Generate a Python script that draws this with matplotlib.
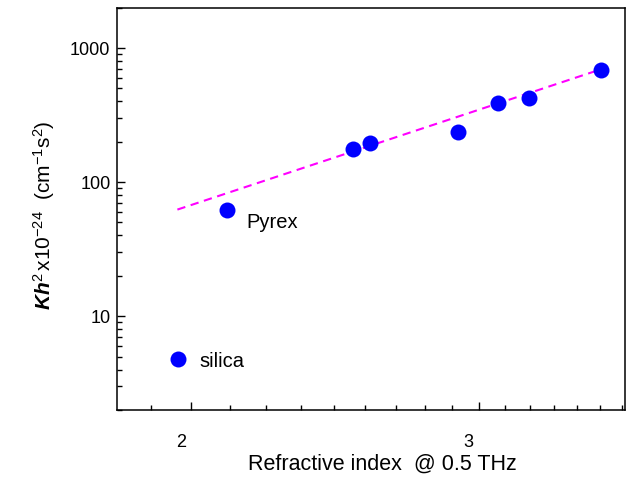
import numpy as np
import matplotlib
matplotlib.use("Agg")
import matplotlib.pyplot as plt
from matplotlib.ticker import FixedLocator, NullFormatter
from matplotlib.transforms import ScaledTranslation

plt.rcParams['font.family'] = ['Liberation Sans', 'DejaVu Sans']
plt.rcParams['mathtext.fontset'] = 'custom'
plt.rcParams['mathtext.rm'] = 'Liberation Sans'
plt.rcParams['mathtext.it'] = 'Liberation Sans:italic'
plt.rcParams['mathtext.bf'] = 'Liberation Sans:bold'
plt.rcParams['mathtext.bfit'] = 'Liberation Sans:bold:italic'

# refractive index at 0.5 THz vs Kh^2 (x1e-24 cm^-1 s^2)
n_index = [1.964, 2.104, 2.511, 2.574, 2.910, 3.081, 3.217, 3.561]
kh2 = [4.83, 62.4, 176.5, 196.5, 237, 389, 426, 690]

# power-law fit line (endpoints)
fit_n = [1.961, 3.561]
fit_kh2 = [62.4, 694]

labels = {"silica": (1.964, 4.83), "Pyrex": (2.104, 62.4)}
label_offsets = {"silica": (15, -2), "Pyrex": (14, -9)}

fig = plt.figure(figsize=(6.31, 4.80), dpi=100)
ax = fig.add_axes([0.186, 0.146, 0.8045, 0.838])

ax.plot(fit_n, fit_kh2, color='#ff00ff', linestyle=(0, (4, 2.7)), linewidth=1.5, zorder=2)
ax.plot(n_index, kh2, 'o', color='#0000ff', markersize=11.5, markeredgewidth=0, zorder=3)

for name, (xv, yv) in labels.items():
    ax.annotate(name, (xv, yv), xytext=label_offsets[name], textcoords='offset points',
                fontsize=14.5, va='center', ha='left')

ax.set_xscale('log')
ax.set_yscale('log')
ax.set_xlim(1.802, 3.684)
ax.set_ylim(2, 2000)

ax.xaxis.set_major_locator(FixedLocator([2, 3]))
ax.set_xticklabels(['2', '3'])
minor_x = [2 + k / 9 for k in range(-1, 16) if k % 9 != 0]
ax.xaxis.set_minor_locator(FixedLocator(minor_x))
ax.xaxis.set_minor_formatter(NullFormatter())

ax.set_yticks([10, 100, 1000])
ax.set_yticklabels(['10', '100', '1000'])

ax.tick_params(which='both', direction='in', top=False, right=False, labelsize=13, width=1.0)
ax.tick_params(which='major', length=6)
ax.tick_params(which='minor', length=3.5)
ax.tick_params(axis='x', which='major', pad=17)
ax.tick_params(axis='y', which='major', pad=5)

# shift x tick labels a bit to the left like the original
shift = ScaledTranslation(-7.5 / 72, 0, fig.dpi_scale_trans)
for lab in ax.get_xticklabels():
    lab.set_transform(lab.get_transform() + shift)

for sp in ax.spines.values():
    sp.set_linewidth(1.1)

ax.set_xlabel('Refractive index  @ 0.5 THz', fontsize=15.5)
ax.xaxis.set_label_coords(0.523, -0.11)
ax.set_ylabel(r'$\mathbfit{Kh}^{2}\,\mathrm{x10}^{-24}$  (cm$^{-1}$s$^{2}$)', fontsize=15)
ax.yaxis.set_label_coords(-0.118, 0.485)

fig.savefig('out.png', dpi=100)
